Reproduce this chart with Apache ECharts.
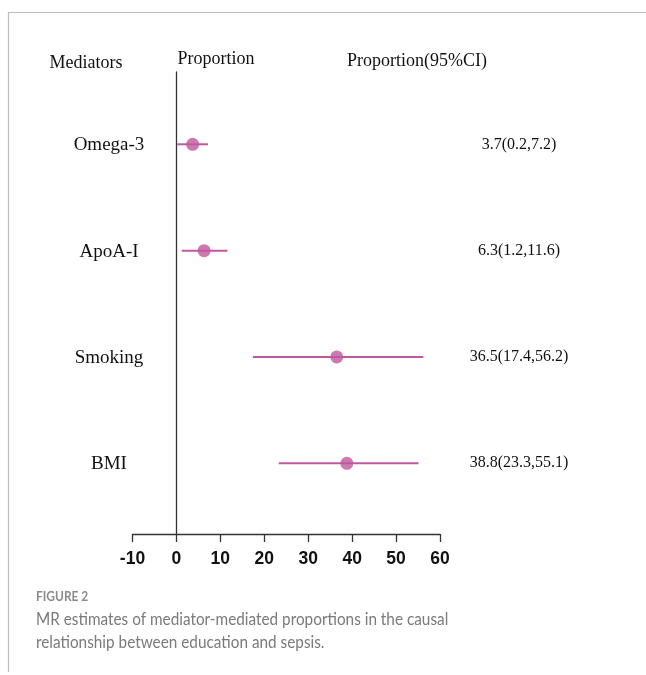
<!DOCTYPE html>
<html>
<head>
<meta charset="utf-8">
<script src="https://cdn.jsdelivr.net/npm/echarts@6/dist/echarts.min.js"></script>
<style>
  html, body { margin: 0; padding: 0; background: #fff; }
  #chart { width: 646px; height: 675px; }
</style>
</head>
<body>
<div id="chart"></div>
<script>
// forest plot data
const mediators = ['Omega-3', 'ApoA-I', 'Smoking', 'BMI'];
const estimates = [3.7, 6.3, 36.5, 38.8];
const lower = [0.2, 1.2, 17.4, 23.3];
const upper = [7.2, 11.6, 56.2, 55.1];
const xTicks = [-10, 0, 10, 20, 30, 40, 50, 60];

const pink = '#c1579d';
const serif = '"Liberation Serif", "Times New Roman", serif';
const captionFont = 'Lato, "Open Sans", sans-serif';

const chart = echarts.init(document.getElementById('chart'));

const option = {
  animation: false,
  grid: {
    left: 132.5,
    right: 206,
    top: 72,
    bottom: 141
  },
  xAxis: {
    type: 'value',
    min: xTicks[0],
    max: xTicks[xTicks.length - 1],
    interval: xTicks[1] - xTicks[0],
    axisLine: {
      onZero: false,
      lineStyle: { color: '#333', width: 1.3 }
    },
    axisTick: {
      length: 8,
      lineStyle: { color: '#333', width: 1.3 }
    },
    splitLine: { show: false },
    axisLabel: {
      margin: 16,
      fontSize: 17.5,
      fontWeight: 'bold',
      fontFamily: '"Liberation Sans", Arial, sans-serif',
      color: '#111'
    }
  },
  yAxis: {
    type: 'value',
    inverse: true,
    min: -0.68,
    max: 3.665,
    axisLine: {
      show: true,
      onZero: true,
      lineStyle: { color: '#333', width: 1.3 }
    },
    axisTick: { show: false },
    axisLabel: { show: false },
    splitLine: { show: false }
  },
  graphic: [
    // frame lines of the page
    { type: 'line', shape: { x1: 8, y1: 12.5, x2: 646, y2: 12.5 }, style: { stroke: '#bdbdbd', lineWidth: 1.2 } },
    { type: 'line', shape: { x1: 8.5, y1: 12, x2: 8.5, y2: 672 }, style: { stroke: '#bdbdbd', lineWidth: 1.2 } },
    // column headers
    { type: 'text', x: 86, y: 63, scaleY: 1.1, style: { text: 'Mediators', font: '18px ' + serif, fill: '#111', align: 'center', verticalAlign: 'middle' } },
    { type: 'text', x: 216, y: 59, scaleY: 1.1, style: { text: 'Proportion', font: '18px ' + serif, fill: '#111', align: 'center', verticalAlign: 'middle' } },
    { type: 'text', x: 417, y: 61, scaleY: 1.1, style: { text: 'Proportion(95%CI)', font: '18px ' + serif, fill: '#111', align: 'center', verticalAlign: 'middle' } },
    // caption
    { type: 'text', x: 36, y: 597, scaleX: 0.92, style: { text: 'FIGURE 2', font: 'bold 13px ' + captionFont, fill: '#8a8a8a', verticalAlign: 'middle' } },
    { type: 'text', x: 36, y: 620, scaleX: 0.935, style: { text: 'MR estimates of mediator-mediated proportions in the causal', font: '16.4px ' + captionFont, fill: '#7a7a7a', verticalAlign: 'middle' } },
    { type: 'text', x: 36, y: 643, scaleX: 0.935, style: { text: 'relationship between education and sepsis.', font: '16.4px ' + captionFont, fill: '#7a7a7a', verticalAlign: 'middle' } }
  ],
  series: [
    {
      // confidence interval bars
      type: 'custom',
      clip: false,
      data: mediators.map((m, i) => [lower[i], upper[i], i]),
      encode: { x: [0, 1], y: 2 },
      renderItem: function (params, api) {
        const a = api.coord([api.value(0), api.value(2)]);
        const b = api.coord([api.value(1), api.value(2)]);
        return {
          type: 'line',
          shape: { x1: a[0], y1: a[1], x2: b[0], y2: b[1] },
          style: { stroke: pink, lineWidth: 2 }
        };
      }
    },
    {
      type: 'scatter',
      symbol: 'circle',
      symbolSize: 13,
      itemStyle: { color: pink },
      data: estimates.map((v, i) => [v, i]),
      z: 3
    },
    {
      // row labels and CI text
      type: 'custom',
      clip: false,
      data: mediators.map((m, i) => [0, i]),
      renderItem: function (params, api) {
        const i = params.dataIndex;
        const y = api.coord([0, api.value(1)])[1];
        return {
          type: 'group',
          children: [
            {
              type: 'text',
              x: 109, y: y + 1,
              style: { text: mediators[i], font: '19px ' + serif, fill: '#111', align: 'center', verticalAlign: 'middle' }
            },
            {
              type: 'text',
              x: 519, y: y,
              style: {
                text: estimates[i] + '(' + lower[i] + ',' + upper[i] + ')',
                font: '16px ' + serif, fill: '#111', align: 'center', verticalAlign: 'middle'
              }
            }
          ]
        };
      }
    }
  ]
};

chart.setOption(option);
</script>
</body>
</html>
